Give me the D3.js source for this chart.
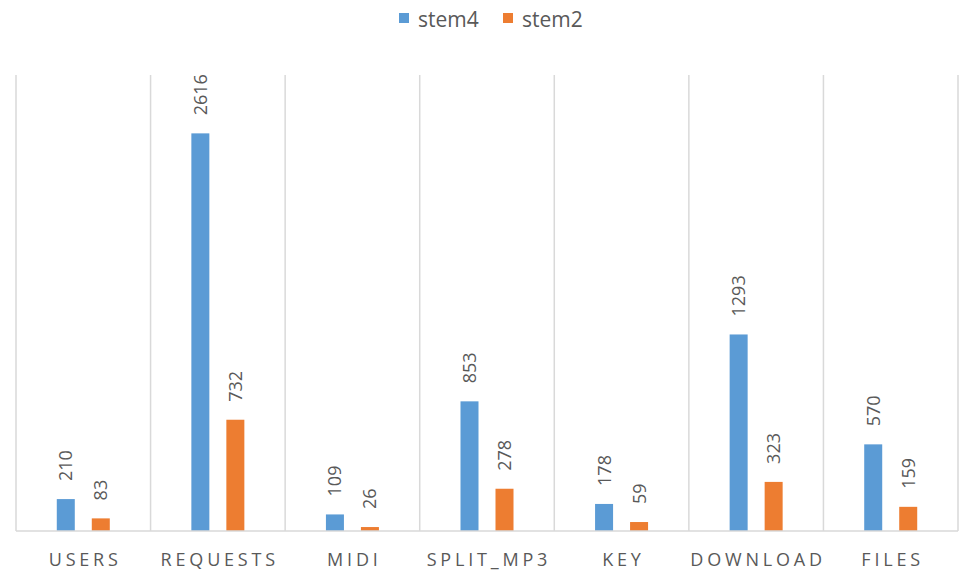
<!DOCTYPE html>
<html><head><meta charset="utf-8">
<script src="https://cdn.jsdelivr.net/npm/d3@7"></script>
<style>body{margin:0;background:#fff}svg{display:block}</style>
</head><body>
<svg id="c" width="976" height="579"></svg>
<script>
const categories = ["USERS","REQUESTS","MIDI","SPLIT_MP3","KEY","DOWNLOAD","FILES"];
const seriesNames = ["stem4","stem2"];
const stem4 = [210,2616,109,853,178,1293,570];
const stem2 = [83,732,26,278,59,323,159];
const colors = ["#5B9BD5","#ED7D31"];

const svg = d3.select("#c");
const m = {l:16, r:18, t:75, b:48};
const W = 976, H = 579;
const x = d3.scaleBand().domain(categories).range([m.l, W-m.r]);
const y = d3.scaleLinear().domain([0,3000]).range([H-m.b, m.t]);
const font = "'Open Sans', 'Liberation Sans', sans-serif";
const txt = "#595959";

// vertical separators
const bounds = categories.map(c=>x(c)).concat([x.range()[1]]);
svg.append("g").selectAll("line").data(bounds).join("line")
  .attr("x1",d=>d).attr("x2",d=>d).attr("y1",y(3000)).attr("y2",y(0))
  .attr("stroke","#D9D9D9").attr("stroke-width",1.5);

const data = categories.map((c,i)=>({c, vals:[stem4[i], stem2[i]]}));
const bw = 18, off = 17.5;
const g = svg.append("g");
data.forEach(d=>{
  d.vals.forEach((v,k)=>{
    const cx = x(d.c) + x.bandwidth()/2 + (k===0?-off:off);
    g.append("rect").attr("x",cx-bw/2).attr("width",bw)
      .attr("y",y(v)).attr("height",y(0)-y(v)).attr("fill",colors[k]);
    g.append("text").attr("transform",`translate(${cx+6.5},${y(v)-18}) rotate(-90)`)
      .attr("text-anchor","start").attr("font-family",font).attr("font-size",18)
      .attr("fill",txt).text(v);
  });
});

// axis baseline
svg.append("line").attr("x1",m.l).attr("x2",W-m.r).attr("y1",y(0)).attr("y2",y(0))
  .attr("stroke","#D9D9D9").attr("stroke-width",1.5);

// x labels
const xa = svg.append("g").attr("transform",`translate(0,${y(0)})`)
  .call(d3.axisBottom(x).tickSize(0).tickPadding(22));
xa.select(".domain").remove();
xa.selectAll("text").attr("font-family",font).attr("font-size",18)
  .attr("fill",txt).attr("letter-spacing","3.8px").attr("dx","1.9px");

// legend
const lg = svg.append("g");
const items = [{n:seriesNames[0],c:colors[0],x:399},{n:seriesNames[1],c:colors[1],x:503}];
items.forEach(it=>{
  lg.append("rect").attr("x",it.x).attr("y",13).attr("width",10).attr("height",10).attr("fill",it.c);
  lg.append("text").attr("x",it.x+19).attr("y",27).attr("font-family",font)
    .attr("font-size",21).attr("fill",txt).text(it.n);
});
</script>
</body></html>
